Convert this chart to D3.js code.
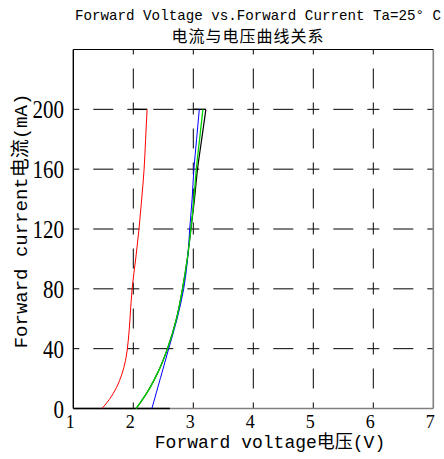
<!DOCTYPE html>
<html>
<head>
<meta charset="utf-8">
<script src="https://cdn.jsdelivr.net/npm/d3@7"></script>
<style>
  body { margin: 0; background: #fff; }
  svg text { font-family: "Liberation Mono", "Noto Sans CJK SC", monospace; fill: #000; }
</style>
</head>
<body>
<svg id="chart" width="444" height="459"></svg>
<script>
// tick values
const xTicks = [1, 2, 3, 4, 5, 6, 7];
const yTicks = [0, 40, 80, 120, 160, 200];

// curves: [voltage V, current mA]
const redCurve = [[1.48, 0], [1.60, 6], [1.72, 14], [1.81, 23], [1.87, 32], [1.915, 45], [1.945, 60], [1.98, 80], [2.04, 100], [2.095, 120], [2.14, 140], [2.18, 160], [2.205, 180], [2.23, 200]];
const blackCurve = [[2.05, 0], [2.25, 12], [2.42, 25], [2.57, 40], [2.72, 60], [2.82, 80], [2.90, 100], [2.96, 120], [3.02, 140], [3.07, 160], [3.14, 180], [3.21, 200]];
const blueCurve = [[2.31, 0], [2.45, 20], [2.59, 40], [2.73, 60], [2.84, 80], [2.905, 100], [2.94, 120], [2.98, 140], [3.01, 160], [3.055, 180], [3.10, 200]];
const greenCurve = [[2.045, 0], [2.25, 12], [2.42, 25], [2.57, 40], [2.72, 60], [2.82, 80], [2.90, 100], [2.96, 120], [3.01, 140], [3.05, 160], [3.105, 180], [3.16, 200]];
// short black pieces at the top (200 mA) and the bottom (0 mA)
const capSegments = [[[2.0, 200], [2.23, 200]], [[3.0, 200], [3.21, 200]], [[1.0, 0], [2.61, 0]]];

const svg = d3.select('#chart');

const x = d3.scaleLinear().domain([1, 7]).range([73.3, 433.3]);
const y = d3.scaleLinear().domain([0, 240]).range([408.5, 49.5]);

// dashed grid, pattern starts at an intersection so crossings show a "+"
const dash = "6,14,20,14,6,0";
svg.append("g").selectAll("line")
  .data(xTicks.slice(1, -1))
  .enter().append("line")
  .attr("x1", d => x(d)).attr("x2", d => x(d))
  .attr("y1", y(0)).attr("y2", y(240))
  .attr("stroke", "#000").attr("stroke-width", 1)
  .attr("stroke-dasharray", dash);

svg.append("g").selectAll("line")
  .data(yTicks.slice(1))
  .enter().append("line")
  .attr("x1", x(1)).attr("x2", x(7))
  .attr("y1", d => y(d)).attr("y2", d => y(d))
  .attr("stroke", "#000").attr("stroke-width", 1)
  .attr("stroke-dasharray", dash);

// frame: left and top black, right and bottom grey
svg.append("line").attr("x1", x(1)).attr("x2", x(7)).attr("y1", y(0)).attr("y2", y(0))
  .attr("stroke", "#808080").attr("stroke-width", 1.6);
svg.append("line").attr("x1", x(7)).attr("x2", x(7)).attr("y1", y(0)).attr("y2", y(240))
  .attr("stroke", "#808080").attr("stroke-width", 1.6);
svg.append("line").attr("x1", x(1)).attr("x2", x(7)).attr("y1", y(240)).attr("y2", y(240))
  .attr("stroke", "#000").attr("stroke-width", 1);
svg.append("line").attr("x1", x(1)).attr("x2", x(1)).attr("y1", y(0)).attr("y2", y(240))
  .attr("stroke", "#000").attr("stroke-width", 1.4);

const line = d3.line().x(d => x(d[0])).y(d => y(d[1])).curve(d3.curveMonotoneY);

svg.append("g").selectAll("path")
  .data(capSegments)
  .enter().append("path")
  .attr("d", d3.line().x(d => x(d[0])).y(d => y(d[1])))
  .attr("fill", "none").attr("stroke", "#000").attr("stroke-width", 1.4);

const curves = [
  {pts: blackCurve, color: "#000", w: 1.2},
  {pts: blueCurve, color: "#0000ff", w: 1},
  {pts: greenCurve, color: "#00d000", w: 1.3},
  {pts: redCurve, color: "#ff0000", w: 1}
];
svg.append("g").selectAll("path")
  .data(curves)
  .enter().append("path")
  .attr("d", d => line(d.pts))
  .attr("fill", "none")
  .attr("stroke", d => d.color)
  .attr("stroke-width", d => d.w);

// tick labels
svg.append("g").selectAll("text")
  .data(xTicks)
  .enter().append("text")
  .attr("x", d => x(d) - 3)
  .attr("y", 428)
  .attr("text-anchor", "middle")
  .style("font-family", "'Liberation Serif', serif")
  .style("font-size", "18px")
  .text(d => d);

svg.append("g").selectAll("text")
  .data(yTicks)
  .enter().append("text")
  .attr("x", 64)
  .attr("y", d => y(d) + 9)
  .attr("text-anchor", "end")
  .attr("textLength", d => String(d).length * 10.5)
  .attr("lengthAdjust", "spacingAndGlyphs")
  .style("font-family", "'Liberation Serif', serif")
  .style("font-size", "26px")
  .text(d => d);

// axis titles
svg.append("text")
  .attr("x", 270).attr("y", 448)
  .attr("text-anchor", "middle")
  .style("font-size", "18px")
  .text("Forward voltage电压(V)");

svg.append("text")
  .attr("transform", "translate(27,221) rotate(-90)")
  .attr("text-anchor", "middle")
  .style("font-size", "19px")
  .text("Forward current电流(mA)");

// title
svg.append("text")
  .attr("x", 75).attr("y", 20)
  .style("font-size", "14.2px")
  .text("Forward Voltage vs.Forward Current Ta=25° C");

svg.append("text")
  .attr("x", 248).attr("y", 42)
  .attr("text-anchor", "middle")
  .style("font-size", "16px")
  .style("letter-spacing", "1px")
  .style("font-family", "'Noto Sans CJK SC', sans-serif")
  .text("电流与电压曲线关系");
</script>
</body>
</html>
